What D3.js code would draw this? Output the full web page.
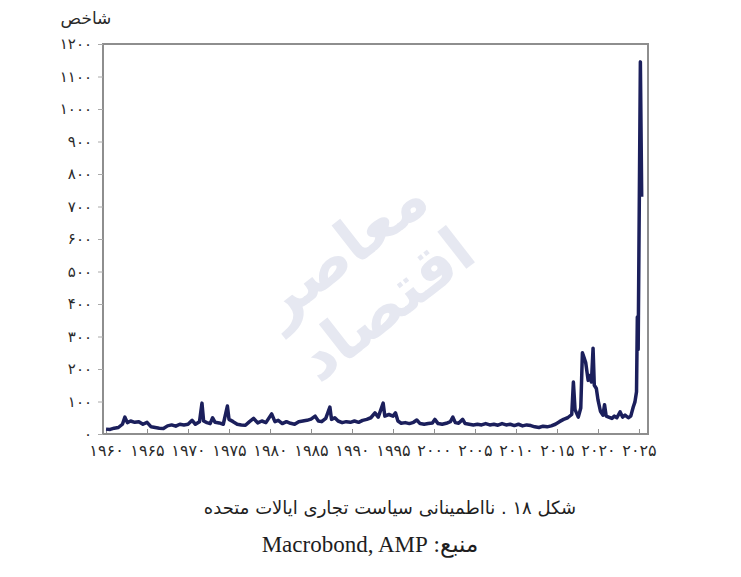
<!DOCTYPE html>
<html>
<head>
<meta charset="utf-8">
<script src="https://cdn.jsdelivr.net/npm/d3@7"></script>
<style>
  html, body { margin: 0; padding: 0; background: #ffffff; }
  svg { display: block; }
</style>
</head>
<body>
<svg id="chart" width="741" height="577"></svg>
<script>
// ---- data ----
const years = [
  1960.0,1960.5,1961.0,1961.5,1962.0,1962.3,1962.6,1963.0,1963.5,1964.0,1964.5,1965.0,1965.5,1966.0,1966.5,1967.0,1967.5,1968.0,1968.5,1969.0,1969.5,
  1970.0,1970.5,1970.9,1971.4,1971.7,1971.9,1972.3,1972.7,1973.0,1973.3,1973.8,1974.3,1974.8,1975.0,1975.5,1976.0,1976.5,1977.0,1977.5,1978.0,1978.5,1979.0,1979.5,
  1980.2,1980.6,1981.0,1981.5,1982.0,1982.5,1983.0,1983.5,1984.0,1984.5,1985.0,1985.5,1985.9,1986.3,1986.8,1987.3,1987.5,1987.9,1988.3,1988.8,1989.3,1989.8,
  1990.3,1990.8,1991.3,1991.8,1992.3,1992.8,1993.2,1993.8,1994.0,1994.5,1995.0,1995.3,1995.6,1996.0,1996.5,1997.0,1997.5,1997.9,1998.3,1998.8,1999.3,1999.8,
  2000.1,2000.5,2001.0,2001.5,2002.0,2002.3,2002.6,2003.0,2003.5,2003.8,2004.3,2004.8,2005.3,2005.8,2006.3,2006.8,2007.3,2007.8,2008.3,2008.8,2009.3,2009.8,
  2010.3,2010.8,2011.3,2011.8,2012.3,2012.8,2013.3,2013.8,2014.3,2014.8,2015.3,2015.8,2016.3,2016.8,2017.0,2017.2,2017.6,2017.9,
  2018.1,2018.3,2018.5,2018.8,2019.0,2019.2,2019.4,2019.55,2019.8,2020.0,2020.3,2020.6,2020.8,2021.0,2021.3,2021.7,2022.0,2022.3,2022.7,2023.0,2023.3,2023.7,
  2024.0,2024.3,2024.5,2024.7,2024.8,2024.9,2025.17,2025.33
];
const values = [
  15,14,18,20,30,52,35,40,36,38,30,36,22,20,18,17,25,28,24,30,28,
  30,42,30,38,95,40,35,32,50,36,34,30,86,45,38,30,28,27,38,48,34,40,35,
  62,38,42,32,38,33,30,38,40,42,46,55,40,38,48,83,45,50,40,35,38,36,
  40,36,42,45,50,65,52,95,55,60,55,65,40,33,35,32,36,43,32,30,32,34,
  45,32,30,33,38,52,35,33,45,32,30,28,30,28,32,28,30,27,32,28,30,26,
  30,25,28,26,22,20,24,22,25,30,38,45,50,60,160,75,52,80,
  250,235,220,165,180,160,264,150,140,105,70,58,90,55,52,48,55,50,68,52,58,50,
  55,83,98,130,360,260,1145,730
];
const yTicks = [0,100,200,300,400,500,600,700,800,900,1000,1100,1200];
const xTicks = [1960,1965,1970,1975,1980,1985,1990,1995,2000,2005,2010,2015,2020,2025];
const yTitle = "شاخص";
const captionLine1 = "شکل ۱۸ . نااطمینانی سیاست تجاری ایالات متحده";
const captionLine2 = "منبع: Macrobond, AMP";
const watermark = ["اقتصاد","معاصر"];

// ---- helpers ----
const faDigits = "۰۱۲۳۴۵۶۷۸۹";
const toFa = n => String(n).replace(/[0-9]/g, d => faDigits[+d]);

const svg = d3.select("#chart");
const W = 741, H = 577;
svg.append("rect").attr("width", W).attr("height", H).attr("fill", "#ffffff");

const pLeft = 103, pRight = 648, pTop = 44, pBottom = 434;
const x = d3.scaleLinear().domain([1959.63, 2026.1]).range([pLeft, pRight]);
const y = d3.scaleLinear().domain([0, 1200]).range([pBottom, pTop]);

// watermark (faint logo text)
const wm = svg.append("g").attr("transform", "translate(368,282) rotate(-38)")
  .attr("fill", "#e6e8f1").attr("font-family", "DejaVu Sans").attr("font-weight", "bold");
wm.append("text").attr("x", 0).attr("y", -20).attr("text-anchor", "middle")
  .attr("font-size", 62).text(watermark[1]);
wm.append("text").attr("x", 0).attr("y", 50).attr("text-anchor", "middle")
  .attr("font-size", 62).text(watermark[0]);

const axisColor = "#8e8e8e";

// frame
svg.append("rect")
  .attr("x", pLeft).attr("y", pTop)
  .attr("width", pRight - pLeft).attr("height", pBottom - pTop)
  .attr("fill", "none").attr("stroke", axisColor).attr("stroke-width", 2);

// y axis
const yAxis = d3.axisLeft(y).tickValues(yTicks).tickSize(5).tickPadding(6)
  .tickFormat(d => toFa(d));
const gy = svg.append("g").attr("transform", `translate(${pLeft},0)`).call(yAxis);
gy.select(".domain").remove();
gy.selectAll(".tick line").attr("stroke", "#aaaaaa").attr("stroke-width", 1);
gy.selectAll(".tick text").attr("fill", "#2a2a2a")
  .attr("font-family", "DejaVu Sans").attr("font-size", 15);

// x axis (ticks inside)
const xAxis = d3.axisBottom(x).tickValues(xTicks).tickSize(-5).tickPadding(11)
  .tickFormat(d => toFa(d));
const gx = svg.append("g").attr("transform", `translate(0,${pBottom})`).call(xAxis);
gx.select(".domain").remove();
gx.selectAll(".tick line").attr("stroke", axisColor).attr("stroke-width", 1);
gx.selectAll(".tick text").attr("fill", "#2a2a2a")
  .attr("font-family", "DejaVu Sans").attr("font-size", 16);

// y title
svg.append("text").attr("x", 86).attr("y", 24).attr("text-anchor", "middle")
  .attr("font-family", "DejaVu Sans").attr("font-size", 17).attr("fill", "#2a2a2a")
  .text(yTitle);

// line
const pts = years.map((yr, i) => [yr, values[i]]);
const line = d3.line().x(d => x(d[0])).y(d => y(d[1]));
svg.append("path").datum(pts)
  .attr("d", line)
  .attr("fill", "none")
  .attr("stroke", "#1b1f5c")
  .attr("stroke-width", 3.5)
  .attr("stroke-linejoin", "round");

// caption (right-to-left Persian text)
svg.append("text").attr("x", 390).attr("y", 514).attr("text-anchor", "middle")
  .attr("direction", "rtl").style("direction", "rtl")
  .attr("font-family", "DejaVu Sans").attr("font-size", 18).attr("fill", "#1e1e1e")
  .text(captionLine1);
svg.append("text").attr("x", 370).attr("y", 552).attr("text-anchor", "middle")
  .attr("direction", "rtl").style("direction", "rtl")
  .attr("font-family", "Liberation Serif, DejaVu Sans").attr("font-size", 23).attr("fill", "#1e1e1e")
  .text(captionLine2);
</script>
</body>
</html>
